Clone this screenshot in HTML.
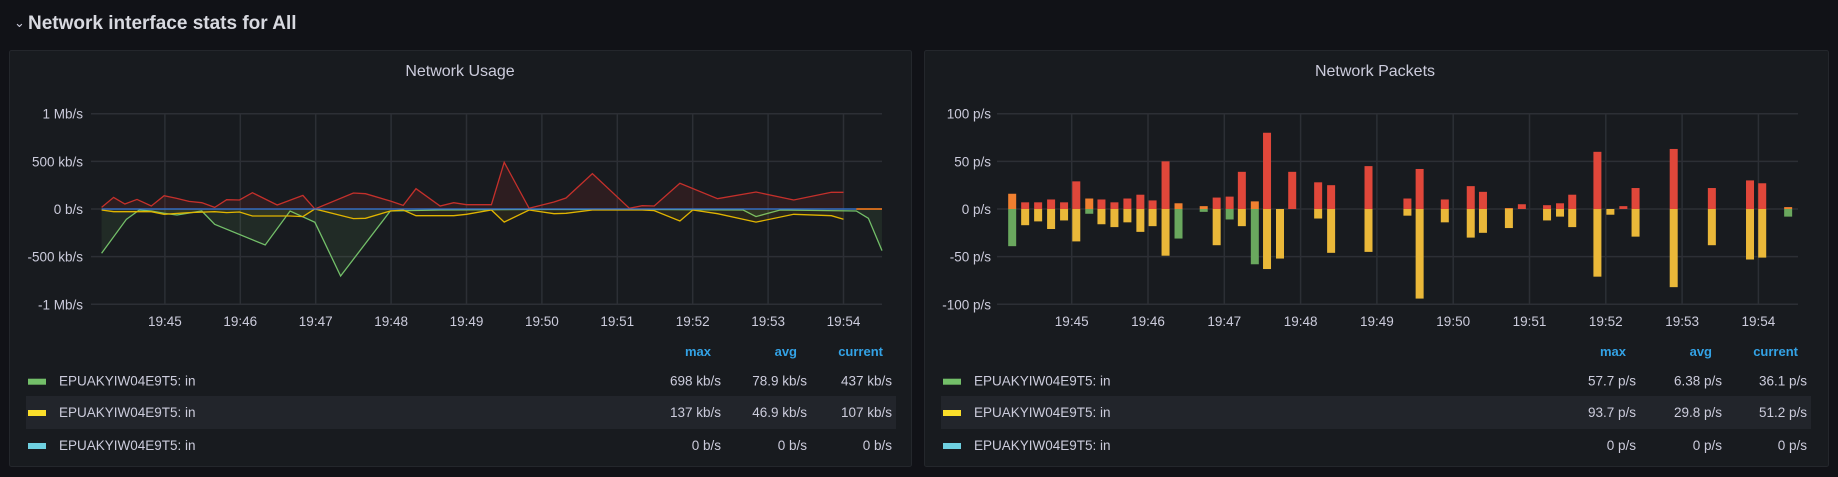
<!DOCTYPE html>
<html><head><meta charset="utf-8"><style>
html,body{margin:0;padding:0;background:#111217;width:1838px;height:477px;overflow:hidden;font-family:"Liberation Sans",sans-serif}
svg{display:block}
</style></head><body>
<svg id="s" width="1838" height="477" xmlns="http://www.w3.org/2000/svg">
<text x="14" y="27" fill="#ccccdc" font-size="13">⌄</text>
<text x="28" y="29" fill="#d8d9e0" font-size="19" font-weight="bold">Network interface stats for All</text>
<rect x="9.5" y="50.5" width="902" height="416" rx="2" fill="#181b1f" stroke="#24272c"/>
<rect x="924.5" y="50.5" width="904" height="416" rx="2" fill="#181b1f" stroke="#24272c"/>
<text x="460" y="76" fill="#ccccdc" font-size="16" text-anchor="middle">Network Usage</text>
<text x="1375" y="76" fill="#ccccdc" font-size="16" text-anchor="middle">Network Packets</text>
<g id="g1"></g><g id="g2"></g>
</svg>
<script>
// ---- Network Usage data (t = minutes after 19:44, values kb/s)
const usageTicks = ["19:45","19:46","19:47","19:48","19:49","19:50","19:51","19:52","19:53","19:54"];
const usageYTicks = [1000,500,0,-500,-1000];
const usageYLabels = ["1 Mb/s","500 kb/s","0 b/s","-500 kb/s","-1 Mb/s"];
const redT = [0.16,0.32,0.47,0.63,0.82,0.99,1.15,1.32,1.49,1.66,1.82,1.99,2.16,2.49,2.83,2.99,3.50,3.66,3.99,4.16,4.33,4.65,4.83,5.00,5.33,5.50,5.83,6.16,6.32,6.67,7.16,7.33,7.49,7.83,8.33,8.84,9.34,9.84,10.0];
const redV = [17,122,52,101,31,140,112,80,66,17,98,94,171,42,143,0,168,161,84,38,213,31,66,45,45,490,7,73,115,371,7,35,31,270,108,178,94,175,175];
const greenT = [0.16,0.49,0.66,0.82,0.99,1.16,1.49,1.66,2.33,2.66,2.99,3.33,3.99,4.65,5.81,7.37,8.67,8.84,9.16,10.17,10.33,10.51];
const greenV = [-465,-108,-10,-21,-45,-63,-21,-161,-378,-21,-140,-703,-21,-10,-5,-5,-10,-80,-10,-21,-98,-437];
const yellowT = [0.16,0.32,0.66,0.82,0.99,1.32,1.66,1.82,1.99,2.16,2.66,2.83,2.99,3.50,3.66,3.99,4.16,4.33,4.83,5.00,5.33,5.50,5.83,6.16,6.32,6.67,7.33,7.49,7.83,8.00,8.33,8.84,9.34,9.84,10.0];
const yellowV = [-10,-28,-28,-28,-56,-38,-28,-38,-31,-73,-73,-80,0,-101,-98,-21,-10,-70,-70,-56,-10,-137,-10,-49,-45,-10,-10,-17,-126,-10,-49,-137,-56,-70,-108];
const blueT = [0.16,10.51];
const blueV = [0,0];
// ---- Network Packets data (p/s)
const pktYTicks = [100,50,0,-50,-100];
const pktYLabels = ["100 p/s","50 p/s","0 p/s","-50 p/s","-100 p/s"];
const barT = [0.22,0.39,0.56,0.73,0.90,1.06,1.23,1.39,1.56,1.73,1.90,2.06,2.23,2.40,2.73,2.90,3.07,3.23,3.40,3.56,3.73,3.89,4.23,4.40,4.89,5.40,5.56,5.89,6.23,6.39,6.73,6.90,7.23,7.40,7.56,7.89,8.06,8.23,8.39,8.89,9.39,9.89,10.05,10.39];
const barRed = [0,7,7,10,7,29,0,10,7,11,15,9,50,0,0,12,13,39,0,80,0,39,28,25,45,11,42,10,24,18,0,5,4,6,15,60,0,3,22,63,22,30,27,0];
const barOrange = [16,0,0,0,0,0,11,0,0,0,0,0,0,6,3,0,0,0,8,0,0,0,0,0,0,0,0,0,0,0,1,0,0,0,0,0,0,0,0,0,0,0,0,2];
const barYellow = [0,-17,-13,-21,-12,-34,0,-16,-19,-14,-24,-18,-49,0,0,-38,0,-18,0,-63,-52,0,-10,-46,-45,-7,-94,-14,-30,-25,-20,0,-12,-8,-19,-71,-6,0,-29,-82,-38,-53,-51,0];
const barGreen = [-39,0,0,0,0,0,-5,0,0,0,0,0,0,-31,-3,0,-11,0,-58,0,0,0,0,0,0,0,0,0,0,0,0,0,0,0,0,0,0,0,0,0,0,0,0,-8];
// legends
const legendNames = ["EPUAKYIW04E9T5: in","EPUAKYIW04E9T5: in","EPUAKYIW04E9T5: in"];
const legendColors = ["#73bf69","#fade2a","#6ed0e0"];
const usageMax = ["698 kb/s","137 kb/s","0 b/s"];
const usageAvg = ["78.9 kb/s","46.9 kb/s","0 b/s"];
const usageCur = ["437 kb/s","107 kb/s","0 b/s"];
const pktMax = ["57.7 p/s","93.7 p/s","0 p/s"];
const pktAvg = ["6.38 p/s","29.8 p/s","0 p/s"];
const pktCur = ["36.1 p/s","51.2 p/s","0 p/s"];

const NS="http://www.w3.org/2000/svg";
function mk(parent,tag,attrs,txt){const e=document.createElementNS(NS,tag);for(const k in attrs)e.setAttribute(k,attrs[k]);if(txt!==undefined)e.textContent=txt;parent.appendChild(e);return e;}

function drawFrame(g,x0,x1,xs,ys,yTicks,yLabels,xTicks,labelX){
  yTicks.forEach((v,i)=>{
    const l=mk(g,'line',{x1:x0,x2:x1,y1:ys(v),y2:ys(v),stroke:'#2c2f35','stroke-width':1.5});
    
    
    const t=mk(g,'text',{x:labelX,y:ys(v)+5,fill:'#ccccdc','font-size':13.5,'text-anchor':'end'},yLabels[i]);
    
    
  });
  xTicks.forEach((s,i)=>{
    const x=xs(i+1);
    const l=mk(g,'line',{x1:x,x2:x,y1:ys(1000*0+yTicks[0]),y2:ys(yTicks[yTicks.length-1]),stroke:'#2c2f35','stroke-width':1.5});
    
    
    const t=mk(g,'text',{x:x,y:326,fill:'#ccccdc','font-size':13.5,'text-anchor':'middle'},s);
    
    
  });
}

function drawLegend(g,dx,mx,av,cu){
  const r=mk(g,'rect',{x:dx+26,y:396,width:870,height:33,fill:'#22252b'});
  
  
  [["max",711],["avg",797],["current",883]].forEach(h=>{
    const t=mk(g,'text',{x:dx+h[1],y:356,fill:'#33a2e5','font-size':13,'font-weight':'bold','text-anchor':'end'},h[0]);
    
    
  });
  const rows=[380.7,412,445];
  rows.forEach((y,i)=>{
    const sw=mk(g,'rect',{x:dx+28,y:y-2,width:18,height:6,fill:legendColors[i]});
    
    
    const n=mk(g,'text',{x:dx+59,y:y+5,fill:'#ccccdc','font-size':13.5},legendNames[i]);
    
    
    [[mx,721],[av,807],[cu,892]].forEach(c=>{
      const t=mk(g,'text',{x:dx+c[1],y:y+5,fill:'#ccccdc','font-size':13.5,'text-anchor':'end'},c[0][i]);
      
      
    });
  });
}

// ---- chart 1
const g1=document.getElementById('g1');
const xs1=t=>89.5+t*75.4;
const ys1=v=>209-v*47.65/500;
drawFrame(g1,91,882,xs1,ys1,usageYTicks,usageYLabels,usageTicks,83);
function series(T,V,color,fillOp,name){
  let d='';T.forEach((t,i)=>{d+=(i?'L':'M')+xs1(t).toFixed(1)+' '+ys1(V[i]).toFixed(1);});
  const a=mk(g1,'path',{d:d+'L'+xs1(T[T.length-1])+' '+ys1(0)+'L'+xs1(T[0])+' '+ys1(0)+'Z',fill:color,'fill-opacity':fillOp});
  
  
  const l=mk(g1,'path',{d:d,fill:'none',stroke:color,'stroke-width':1.3});
  
  
}
series(greenT,greenV,'#73bf69',0.1,'green-series');
series(yellowT,yellowV,'#e0b400',0.08,'yellow-series');
series(redT,redV,'#c4302b',0.12,'red-series');
series(blueT,blueV,'#3274d9',0,'blue-series');
const ol=mk(g1,'line',{x1:xs1(10.17),x2:xs1(10.51),y1:ys1(0),y2:ys1(0),stroke:'#ff780a','stroke-width':1.5});


drawLegend(g1,0,usageMax,usageAvg,usageCur);

// ---- chart 2
const g2=document.getElementById('g2');
const xs2=t=>995.4+t*76.3;
const ys2=v=>209-v*0.953;
drawFrame(g2,997,1798,xs2,ys2,pktYTicks,pktYLabels,usageTicks,991);
const bw=8;
function bars(V,color,name){
  V.forEach((v,i)=>{
    if(!v)return;
    const y0=ys2(0),y1=ys2(v);
    const r=mk(g2,'rect',{x:xs2(barT[i])-bw/2,y:Math.min(y0,y1),width:bw,height:Math.abs(y1-y0),fill:color});
    
    
  });
}
bars(barRed,'#e0473a','bar-red');
bars(barOrange,'#f08030','bar-orange');
bars(barYellow,'#eab839','bar-yellow');
bars(barGreen,'#6aa85e','bar-green');
drawLegend(g2,915,pktMax,pktAvg,pktCur);
</script>
</body></html>
